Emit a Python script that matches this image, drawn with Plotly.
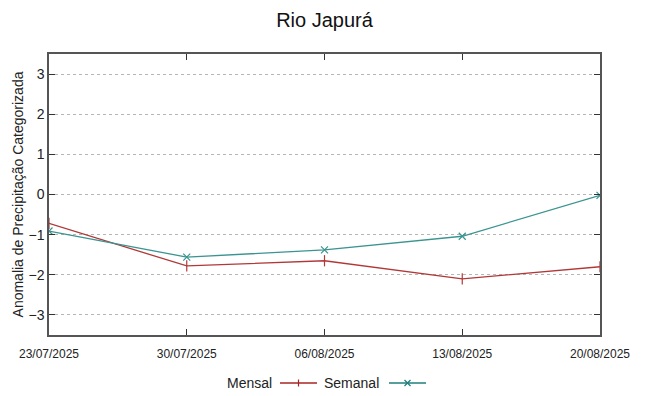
import plotly.graph_objects as go

dates = ["23/07/2025", "30/07/2025", "06/08/2025", "13/08/2025", "20/08/2025"]
mensal = [-0.72, -1.78, -1.65, -2.10, -1.80]
semanal = [-0.91, -1.56, -1.38, -1.04, -0.02]
yticks = [-3, -2, -1, 0, 1, 2, 3]

xi = list(range(len(dates)))
red = "#b23838"
teal = "#3a9490"

fig = go.Figure()
fig.add_trace(go.Scatter(x=xi, y=mensal, mode="lines+markers", name="Mensal",
                         line=dict(color=red, width=1.3),
                         marker=dict(symbol="line-ns", size=8, line=dict(color=red, width=1.2)),
                         showlegend=False))
fig.add_trace(go.Scatter(x=xi, y=semanal, mode="lines+markers", name="Semanal",
                         line=dict(color=teal, width=1.3),
                         marker=dict(symbol="x-thin", size=7, line=dict(color=teal, width=1.2)),
                         showlegend=False))

L, R, T, B = 49, 48, 54, 61
W, H = 648, 396
pw, ph = W - L - R, H - T - B

def px(x):
    return (x - L) / pw

def py(y):
    return (H - B - y) / ph

shapes = []
annotations = []
legend_items = [("Mensal", "#a82424", 274, 280, 317, "plus"), ("Semanal", "#1f7f7b", 381, 389, 426, "x")]
for name, col, tx, x0, x1, mk in legend_items:
    annotations.append(dict(text=name, x=px(tx), y=py(382.5), xref="paper", yref="paper",
                            xanchor="right", yanchor="middle", showarrow=False,
                            font=dict(size=14, color="#222", family="Liberation Sans, Arial, sans-serif")))
    shapes.append(dict(type="line", xref="paper", yref="paper", x0=px(x0), x1=px(x1),
                       y0=py(383), y1=py(383), line=dict(color=col, width=1.3)))
    cx = (x0 + x1) / 2
    if mk == "plus":
        shapes.append(dict(type="line", xref="paper", yref="paper", x0=px(cx), x1=px(cx),
                           y0=py(379.5), y1=py(386.5), line=dict(color=col, width=1.2)))
    else:
        shapes.append(dict(type="line", xref="paper", yref="paper", x0=px(cx - 3), x1=px(cx + 3),
                           y0=py(380), y1=py(386), line=dict(color=col, width=1.2)))
        shapes.append(dict(type="line", xref="paper", yref="paper", x0=px(cx - 3), x1=px(cx + 3),
                           y0=py(386), y1=py(380), line=dict(color=col, width=1.2)))

fig.update_layout(
    width=W, height=H,
    margin=dict(l=L, r=R, t=T, b=B),
    paper_bgcolor="white", plot_bgcolor="white",
    font=dict(family="Liberation Sans, Arial, sans-serif", color="#222"),
    title=dict(text="Rio Japurá", x=0.5, xref="paper", xanchor="center", y=1 - 20 / H, yanchor="middle",
               font=dict(size=20, color="#111")),
    shapes=shapes,
    annotations=annotations,
)
fig.update_xaxes(range=[0, len(dates) - 1], tickvals=xi, ticktext=dates,
                 showgrid=False, zeroline=False, showline=True, mirror="ticks",
                 linecolor="#555", linewidth=1.5, ticks="inside", ticklen=6, tickcolor="#333",
                 tickfont=dict(size=12, color="#222"), ticklabelstandoff=7, automargin=False)
fig.update_yaxes(range=[-3.5, 3.5], tickvals=yticks,
                 showgrid=True, gridcolor="#b5b5b5", griddash="dot", gridwidth=1,
                 zeroline=False, showline=True, mirror="ticks",
                 linecolor="#555", linewidth=1.5, ticks="inside", ticklen=6, tickcolor="#333",
                 tickfont=dict(size=14, color="#222"), automargin=False,
                 title=dict(text="Anomalia de Precipitação Categorizada", font=dict(size=14, color="#222"),
                            standoff=2))

fig.write_html("out.html", config={"displayModeBar": False})
with open("out.html", "r", encoding="utf-8") as f:
    html = f.read()
html = html.replace("<body>", '<body style="margin:0;padding:0;">', 1)
html = html.replace("<head>", '<head><style>html,body{margin:0;padding:0;}</style>', 1)
with open("out.html", "w", encoding="utf-8") as f:
    f.write(html)
